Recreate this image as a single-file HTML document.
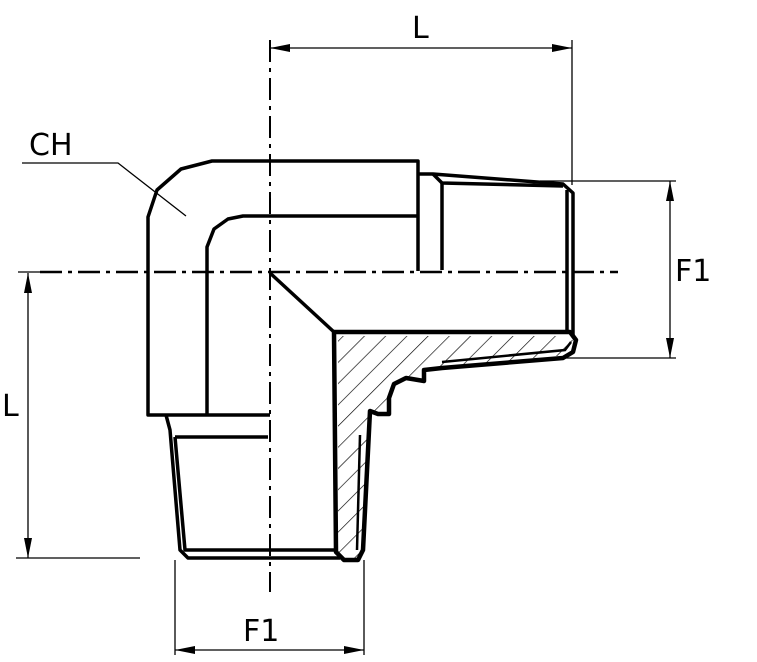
<!DOCTYPE html>
<html><head><style>html,body{margin:0;padding:0;background:#fff}svg{display:block}text{font-family:"DejaVu Sans","Liberation Sans",sans-serif;font-size:30px;fill:#000}</style></head>
<body>
<svg width="757" height="662" viewBox="0 0 757 662" xmlns="http://www.w3.org/2000/svg">
<defs>
<pattern id="h" width="15" height="15" patternUnits="userSpaceOnUse" patternTransform="rotate(45)">
<line x1="0" y1="0" x2="0" y2="15" stroke="#000" stroke-width="1.3"/>
</pattern>
<marker id="a" viewBox="0 0 20 8" refX="20" refY="4" markerWidth="20" markerHeight="8" orient="auto-start-reverse" markerUnits="userSpaceOnUse"><path d="M0,0L20,4L0,8z" fill="#000"/></marker>
</defs>
<g fill="none" stroke="#000">
<line x1="270" y1="40" x2="270" y2="592" stroke-width="2" stroke-dasharray="22,6,4,6"/>
<line x1="40" y1="272" x2="618" y2="272" stroke-width="2.5" stroke-dasharray="22,6,4,6"/>
<g stroke-width="3.5" stroke-linejoin="round">
<path d="M270,415 L148,415 L148,217 L157,190 L181,169 L212,161 L418,161 L418,271"/>
<path d="M207,415 L207,247 L214,229 L228,219 L243,216 L418,216"/>
<path d="M418,174 L433,174 L563,184 L573,193 L573,336"/>
<path d="M433,174 L442,183 L563,186"/>
<path d="M442,183 L442,270"/>
<path d="M567,190 L567,334"/>
<path d="M270,273 L334,332"/>
<path d="M166,415 L170,430 L180,550 L188,558 L340,558"/>
<path d="M175,437 L185,550 L336,550"/>
<path d="M175,437 L268,437"/>
</g>
<path d="M338,336 L570,336 L575,344 L567,355 L442,367 L424,370 L424,381 L406,378 L394,384 L389,398 L389,414 L378,414 L370,411 L363,550 L358,560 L344,560 L338,552 Z" fill="url(#h)" stroke="none"/>
<g stroke-width="4.5" stroke-linejoin="round">
<path d="M334,332 L570,332 L576,340 L573,352 L563,358 L442,368 L424,370 L424,381 L406,378 L394,384 L389,398 L389,414 L378,414 L370,411 L363,550 L358,560 L344,560 L336,552 L334,332"/>
</g>
<path d="M442,362 L565,350 L571,342" stroke-width="2.5"/>
<path d="M360,435 L357,550" stroke-width="2.5"/>
<g stroke-width="1.3">
<line x1="270" y1="48" x2="572" y2="48" marker-start="url(#a)" marker-end="url(#a)"/>
<line x1="572" y1="40" x2="572" y2="185"/>
<line x1="540" y1="181" x2="676" y2="181"/>
<line x1="560" y1="358" x2="676" y2="358"/>
<line x1="670" y1="181" x2="670" y2="358" marker-start="url(#a)" marker-end="url(#a)"/>
<line x1="18" y1="272" x2="40" y2="272"/>
<line x1="28" y1="273" x2="28" y2="558" marker-start="url(#a)" marker-end="url(#a)"/>
<line x1="16" y1="558" x2="140" y2="558"/>
<line x1="175" y1="560" x2="175" y2="655"/>
<line x1="364" y1="560" x2="364" y2="655"/>
<line x1="175" y1="650" x2="364" y2="650" marker-start="url(#a)" marker-end="url(#a)"/>
<path d="M22,163 L118,163 L186,216"/>
</g>
</g>
<text x="412" y="38">L</text>
<text x="675" y="281">F1</text>
<text x="2" y="416">L</text>
<text x="243" y="641">F1</text>
<text x="29" y="155">CH</text>
</svg>
</body></html>
